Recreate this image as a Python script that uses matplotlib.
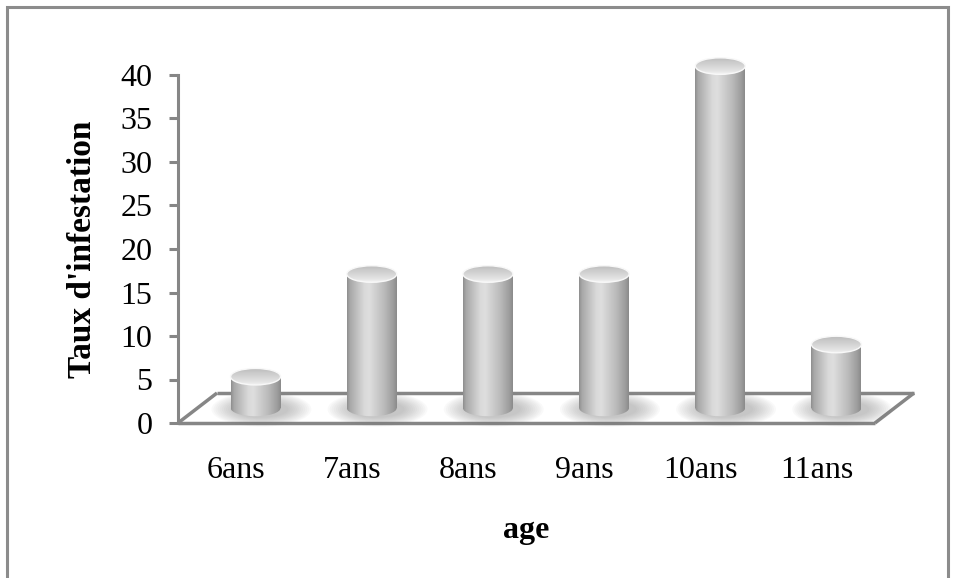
import numpy as np
import matplotlib
matplotlib.use("Agg")
import matplotlib.pyplot as plt
from matplotlib import transforms
from matplotlib.patches import Ellipse, Rectangle
from matplotlib.colors import LinearSegmentedColormap

# ---- data ----
categories = ["6ans", "7ans", "8ans", "9ans", "10ans", "11ans"]
values = [3.6, 15.4, 15.4, 15.4, 39.3, 7.3]
yticks = [0, 5, 10, 15, 20, 25, 30, 35, 40]
ylabel = "Taux d'infestation"
xlabel = "age"

W, H, DPI = 956, 578, 100
fig = plt.figure(figsize=(W / DPI, H / DPI), dpi=DPI)
fig.patch.set_facecolor("white")

# outer chart border (bottom edge lies outside the picture)
fig.add_artist(Rectangle((7 / W, -0.05), (948 - 7) / W, (H - 7) / H + 0.05, transform=fig.transFigure,
                         fill=False, edgecolor="#8c8c8c", linewidth=2.2))

left, right, bot, top = 178, 875, 423, 75
ax = fig.add_axes([left / W, (H - bot) / H, (right - left) / W, (bot - top) / H])
ax.set_xlim(0, len(categories))
ax.set_ylim(0, 40)
ax.patch.set_alpha(0)

serif = ["Liberation Serif", "DejaVu Serif"]
gray = "#868686"

for s in ["top", "right", "bottom"]:
    ax.spines[s].set_visible(False)
ax.spines["left"].set_color(gray)
ax.spines["left"].set_linewidth(2.2)
ax.set_yticks(yticks)
ax.set_yticklabels([str(t) for t in yticks], fontfamily=serif, fontsize=23)
ax.tick_params(axis="y", length=6.5, width=2.2, color=gray, pad=12)
ax.set_xticks([i + 0.5 for i in range(len(categories))])
ax.set_xticklabels(categories, fontfamily=serif, fontsize=23)
ax.tick_params(axis="x", length=0, pad=24)
ax.set_ylabel(ylabel, fontfamily=serif, fontsize=24, fontweight="bold", labelpad=16)
ax.set_xlabel(xlabel, fontfamily=serif, fontsize=23, fontweight="bold", labelpad=22)

# depth offsets (oblique projection)
full_off = transforms.ScaledTranslation(39 / DPI, 30 / DPI, fig.dpi_scale_trans)
half_off = transforms.ScaledTranslation(19.5 / DPI, 15 / DPI, fig.dpi_scale_trans)
t_back = ax.transData + full_off
t_mid = ax.transData + half_off

n = len(categories)
# floor
floor_kw = dict(color=gray, linewidth=2.5, solid_capstyle="butt", zorder=1, clip_on=False)
ax.plot([0, n], [0, 0], **floor_kw)
ax.plot([0, n], [0, 0], transform=t_back, **floor_kw)
for xx in [0, n]:
    p0 = ax.transData.transform((xx, 0))
    p1 = t_back.transform((xx, 0))
    ax.plot([p0[0], p1[0]], [p0[1], p1[1]], transform=None, **floor_kw)

# cylinder gradient
body_cmap = LinearSegmentedColormap.from_list("body", [
    (0.0, "#8e8e8e"), (0.06, "#a8a8a8"), (0.35, "#dadada"), (0.45, "#dedede"),
    (0.75, "#bababa"), (0.93, "#9c9c9c"), (1.0, "#8a8a8a")])
top_cmap = LinearSegmentedColormap.from_list("top", [
    (0.0, "#f4f4f4"), (0.15, "#e6e6e6"), (0.6, "#d0d0d0"), (1.0, "#bcbcbc")])
grad = np.linspace(0, 1, 256).reshape(1, -1)
vgrad = np.linspace(0, 1, 64).reshape(-1, 1)

bw = 0.43
eh = 1.9  # ellipse height in data units
bars = ax.bar([i + 0.5 for i in range(n)], values, width=bw, color="none",
              edgecolor="none", zorder=3)
for i, (rect, v) in enumerate(zip(bars, values)):
    rect.set_transform(t_mid)
    xc = i + 0.5
    x0, x1 = xc - bw / 2, xc + bw / 2
    # soft shadow
    for k in range(12):
        f = 1 - k / 12
        sh = Ellipse((xc + 0.05, -0.15), width=bw * (1.0 + 1.0 * f), height=eh * (0.9 + 1.2 * f),
                     transform=t_mid, facecolor="#6a6a6a", edgecolor="none", alpha=0.035,
                     zorder=2, clip_on=False)
        ax.add_patch(sh)
    # body
    clip_rect = Rectangle((x0, 0), bw, v, transform=t_mid, facecolor="none", edgecolor="none")
    ax.add_patch(clip_rect)
    clip_el = Ellipse((xc, 0), bw, eh, transform=t_mid, facecolor="none", edgecolor="none")
    ax.add_patch(clip_el)
    for cp in (clip_rect, clip_el):
        im = ax.imshow(grad, cmap=body_cmap, extent=(x0, x1, -eh, v), aspect="auto",
                       interpolation="bilinear", zorder=3)
        im.set_transform(t_mid)
        im.set_clip_box(fig.bbox)
        im.set_clip_path(cp)
    # top
    top_el = Ellipse((xc, v), bw, eh, transform=t_mid, facecolor="none",
                     edgecolor="none", zorder=4, clip_on=False)
    ax.add_patch(top_el)
    im3 = ax.imshow(vgrad, cmap=top_cmap, extent=(x0, x1, v - eh / 2, v + eh / 2),
                    aspect="auto", interpolation="bilinear", zorder=4, origin="lower")
    im3.set_transform(t_mid)
    im3.set_clip_box(fig.bbox)
    im3.set_clip_path(top_el)
    rim = Ellipse((xc, v), bw, eh, transform=t_mid, facecolor="none",
                  edgecolor="#f8f8f8", linewidth=1.0, zorder=4.5, clip_on=False)
    ax.add_patch(rim)

ax.set_xlim(0, n)
ax.set_ylim(0, 40)

fig.savefig("out.png", dpi=DPI, facecolor="white")
